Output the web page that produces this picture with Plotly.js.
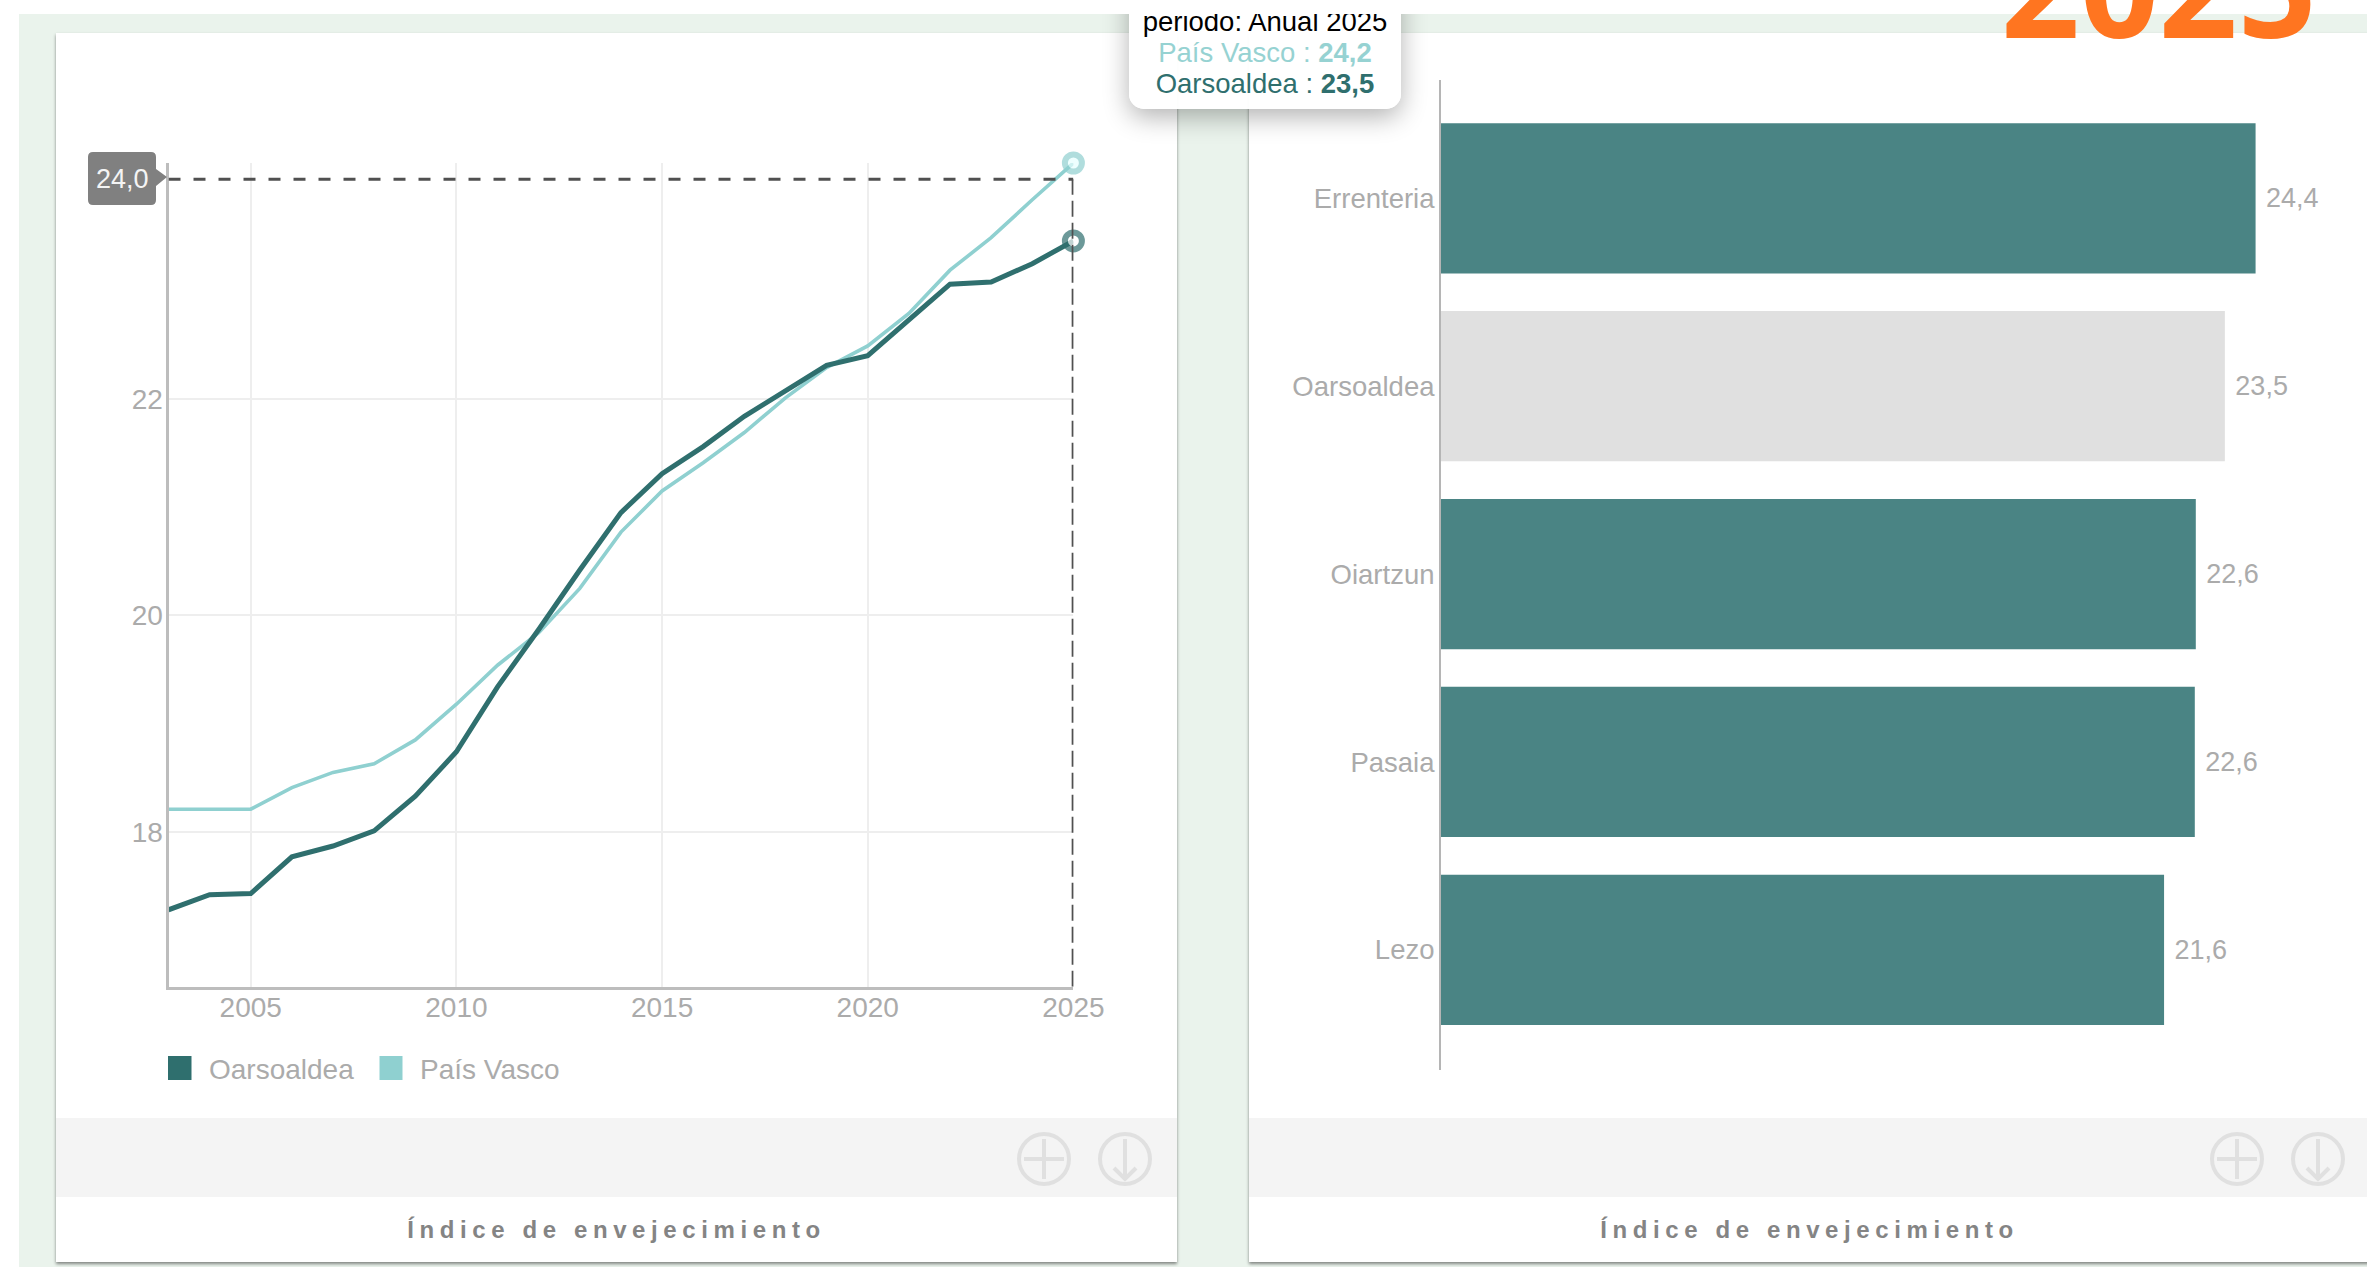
<!DOCTYPE html>
<html lang="es">
<head>
<meta charset="utf-8">
<script src="https://cdn.plot.ly/plotly-3.0.1.min.js"></script>
<style>
html,body{margin:0;padding:0;background:#fff;width:2367px;height:1267px;overflow:hidden;font-family:"Liberation Sans",Arial,sans-serif}
#bg{position:absolute;left:19px;top:14px;right:0;bottom:0;background:#EAF3EC}
.card{position:absolute;top:33px;height:1229px;width:1121px;background:#fff;box-shadow:0 2px 3px rgba(0,0,0,.45)}
.strip{position:absolute;left:0;right:0;top:1085px;height:79px;background:#F4F4F4}
.cap{position:absolute;left:0;right:0;top:1181px;text-align:center;font-weight:bold;font-size:24px;letter-spacing:5.6px;color:#848484;line-height:32px}
.card svg{position:absolute;top:1098px;left:960px}
#chart{position:absolute;left:0;top:0;width:2367px;height:1267px}
#tipclip{position:absolute;left:1080px;top:14px;width:370px;height:170px;overflow:hidden}
#tip{position:absolute;left:49px;top:-40px;width:272px;height:135px;background:rgba(255,255,255,.97);border-radius:15px;box-shadow:0 8px 26px rgba(0,0,0,.3);text-align:center;font-size:27.5px;line-height:31px;color:#000}
#tip .in{position:absolute;left:0;right:0;bottom:10px;white-space:nowrap}
</style>
</head>
<body>
<div id="bg"></div>
<div class="card" style="left:56px"><div class="strip"></div><div class="cap">Índice de envejecimiento</div>
<svg width="140" height="60" viewBox="0 0 140 60" fill="none" stroke="#E0E0E0" stroke-width="4"><circle cx="28" cy="28" r="25"/><path d="M28 8V48M8 28H48"/><circle cx="109" cy="28" r="25"/><path d="M109 8V48M98 37L109 48L120 37"/></svg></div>
<div class="card" style="left:1249px"><div class="strip"></div><div class="cap">Índice de envejecimiento</div>
<svg width="140" height="60" viewBox="0 0 140 60" fill="none" stroke="#E0E0E0" stroke-width="4"><circle cx="28" cy="28" r="25"/><path d="M28 8V48M8 28H48"/><circle cx="109" cy="28" r="25"/><path d="M109 8V48M98 37L109 48L120 37"/></svg></div>
<div id="chart"></div>
<div id="tipclip"><div id="tip"><div class="in">
<div>periodo: Anual 2025</div>
<div style="color:#96D2D2">País Vasco : <b>24,2</b></div>
<div style="color:#2F6F6E">Oarsoaldea : <b>23,5</b></div>
</div></div></div>
<script>
const years = [2003,2004,2005,2006,2007,2008,2009,2010,2011,2012,2013,2014,2015,2016,2017,2018,2019,2020,2021,2022,2023,2024,2025];
const oarsoaldea = [17.28,17.42,17.43,17.77,17.87,18.01,18.33,18.74,19.34,19.87,20.42,20.95,21.31,21.56,21.84,22.08,22.31,22.40,22.73,23.06,23.08,23.25,23.46];
const paisVasco = [18.21,18.21,18.21,18.41,18.55,18.63,18.85,19.18,19.54,19.84,20.25,20.77,21.15,21.41,21.69,22.01,22.29,22.49,22.79,23.19,23.49,23.84,24.18];
const municipios = ['Errenteria','Oarsoaldea','Oiartzun','Pasaia','Lezo'];
const indice = [24.39,23.47,22.6,22.57,21.65];
const indiceLabels = ['24,4','23,5','22,6','22,6','21,6'];
const crosshairValue = 24.03;
const crosshairLabel = '24,0';
const yearLabel = '2025';

const W = 2367, H = 1267;
const px = x => x / W, py = y => 1 - y / H;
const cOars = '#2F6F6E', cPV = '#8FD0D0', cBar = '#4A8484', cBarSel = '#E0E0E0', cText = '#ABABAB';
const fontFam = '"Liberation Sans", Arial, sans-serif';
const lastMarker = years.map((_, i) => i === years.length - 1 ? 17 : 0);

const traces = [
  {type:'scatter',mode:'lines+markers',name:'País Vasco',x:years,y:paisVasco,xaxis:'x',yaxis:'y',cliponaxis:false,
   line:{color:cPV,width:3.6},marker:{size:lastMarker,color:'#E8FFFF',line:{color:cPV,width:6}},showlegend:false,hoverinfo:'skip'},
  {type:'scatter',mode:'lines+markers',name:'Oarsoaldea',x:years,y:oarsoaldea,xaxis:'x',yaxis:'y',cliponaxis:false,
   line:{color:cOars,width:5},marker:{size:lastMarker,color:'#fff',line:{color:cOars,width:6}},showlegend:false,hoverinfo:'skip'},
  {type:'bar',orientation:'h',x:indice,y:municipios,xaxis:'x2',yaxis:'y2',cliponaxis:false,
   marker:{color:municipios.map(m => m === 'Oarsoaldea' ? cBarSel : cBar)},
   text:indiceLabels.map(t => '\u00a0' + t),textposition:'outside',textangle:0,constraintext:'none',
   outsidetextfont:{color:cText,size:27,family:fontFam},showlegend:false,hoverinfo:'skip'}
];

const shapes = [
  {type:'line',xref:'x',yref:'y',x0:years[0],x1:years[years.length-1],y0:crosshairValue,y1:crosshairValue,line:{color:'#505050',width:3,dash:'12px,13px'}},
  {type:'line',xref:'x',yref:'y',x0:years[years.length-1],x1:years[years.length-1],y0:16.57,y1:crosshairValue,line:{color:'#505050',width:3.5,dash:'16px,6px'}},
  {type:'path',xref:'paper',yref:'paper',fillcolor:'#808080',line:{width:0},
   path:`M${px(93)} ${py(152)} L${px(151)} ${py(152)} Q${px(156)} ${py(152)} ${px(156)} ${py(157)} L${px(156)} ${py(169)} L${px(167)} ${py(177)} L${px(156)} ${py(186)} L${px(156)} ${py(200)} Q${px(156)} ${py(205)} ${px(151)} ${py(205)} L${px(93)} ${py(205)} Q${px(88)} ${py(205)} ${px(88)} ${py(200)} L${px(88)} ${py(157)} Q${px(88)} ${py(152)} ${px(93)} ${py(152)} Z`},
  {type:'rect',xref:'paper',yref:'paper',x0:px(168),x1:px(191.5),y0:py(1080),y1:py(1056),fillcolor:cOars,line:{width:0}},
  {type:'rect',xref:'paper',yref:'paper',x0:px(379.5),x1:px(402.5),y0:py(1080),y1:py(1056),fillcolor:cPV,line:{width:0}}
];

const annotations = [
  {xref:'paper',yref:'paper',x:px(122),y:py(179),text:crosshairLabel,showarrow:false,font:{color:'#F4F4F4',size:27,family:fontFam},xanchor:'center',yanchor:'middle'},
  {xref:'paper',yref:'paper',x:px(207),y:py(1069),text:'Oarsoaldea',showarrow:false,font:{color:cText,size:28,family:fontFam},xanchor:'left',yanchor:'middle'},
  {xref:'paper',yref:'paper',x:px(418),y:py(1069),text:'País Vasco',showarrow:false,font:{color:cText,size:28,family:fontFam},xanchor:'left',yanchor:'middle'},
  {xref:'paper',yref:'paper',x:px(2159),y:py(80),text:yearLabel,showarrow:false,font:{color:'#FF7520',size:138,family:'"Open Sans", sans-serif',weight:700},xanchor:'center',yanchor:'bottom'}
];

const layout = {
  width:W,height:H,margin:{l:0,r:0,t:0,b:0},paper_bgcolor:'rgba(0,0,0,0)',plot_bgcolor:'rgba(0,0,0,0)',
  font:{family:fontFam,color:cText,size:28},showlegend:false,bargap:0.2,
  xaxis:{domain:[px(168.5),px(1073.4)],range:[2003,2025],anchor:'y',dtick:5,tick0:2005,ticks:'',ticklabelstandoff:-6,
    showgrid:true,gridcolor:'#EEEEEE',gridwidth:2,showline:true,linecolor:'#BDBDBD',linewidth:3,zeroline:false,tickfont:{size:28,color:cText},fixedrange:true},
  yaxis:{domain:[py(986.7),py(163)],range:[16.57,24.18],anchor:'x',tickvals:[18,20,22],ticks:'',ticklabelstandoff:-3,
    showgrid:true,gridcolor:'#EEEEEE',gridwidth:2,showline:true,linecolor:'#BDBDBD',linewidth:3,zeroline:false,tickfont:{size:28,color:cText},fixedrange:true},
  xaxis2:{domain:[px(1441),px(2300)],range:[0,25.72],anchor:'y2',visible:false,fixedrange:true},
  yaxis2:{domain:[py(1070),py(80)],range:[4.64,-0.63],anchor:'x2',type:'category',categoryorder:'array',categoryarray:municipios,
    showgrid:false,zeroline:false,showline:true,linecolor:'#B5B5B5',linewidth:2,ticks:'',ticklabelstandoff:-1,tickfont:{size:27.5,color:cText},fixedrange:true},
  shapes,annotations
};
Plotly.newPlot('chart',traces,layout,{displayModeBar:false,staticPlot:true});
</script>
</body>
</html>
